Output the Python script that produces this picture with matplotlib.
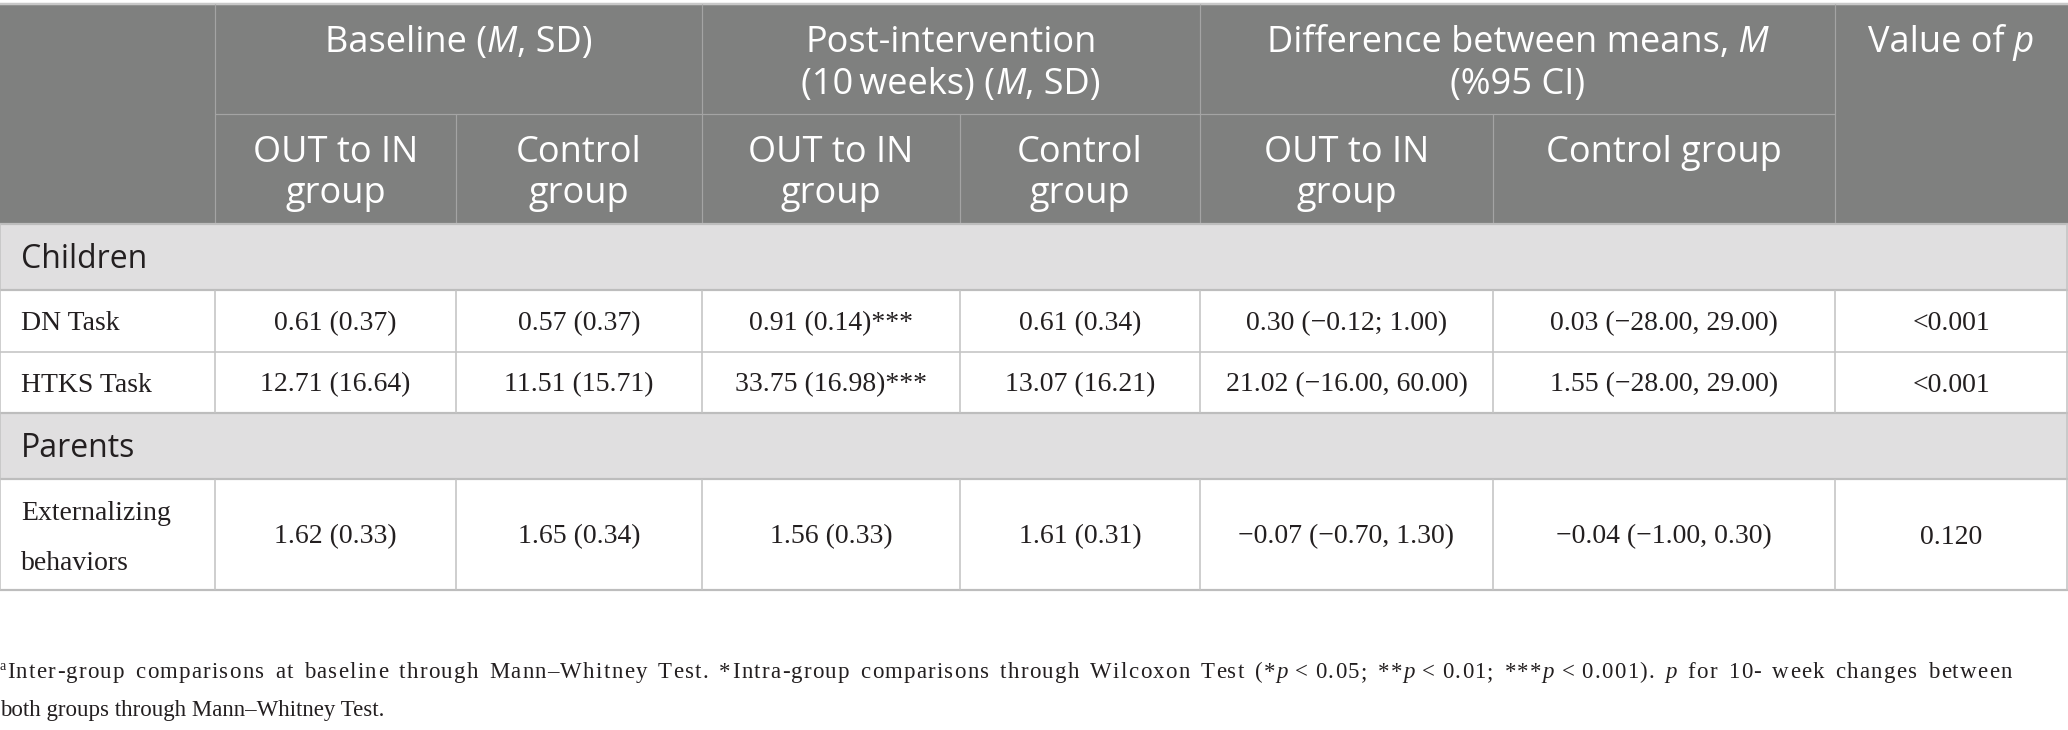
import matplotlib
matplotlib.use("Agg")
import matplotlib.pyplot as plt
from matplotlib.patches import Rectangle
from matplotlib.font_manager import findfont, FontProperties
from matplotlib.ft2font import FT2Font

# table content
sections = ["Children", "Parents"]
row_labels = ["DN Task", "HTKS Task", "Externalizing\nbehaviors"]
baseline_out = ["0.61 (0.37)", "12.71 (16.64)", "1.62 (0.33)"]
baseline_ctrl = ["0.57 (0.37)", "11.51 (15.71)", "1.65 (0.34)"]
post_out = ["0.91 (0.14)***", "33.75 (16.98)***", "1.56 (0.33)"]
post_ctrl = ["0.61 (0.34)", "13.07 (16.21)", "1.61 (0.31)"]
diff_out = ["0.30 (\u22120.12; 1.00)", "21.02 (\u221216.00, 60.00)", "\u22120.07 (\u22120.70, 1.30)"]
diff_ctrl = ["0.03 (\u221228.00, 29.00)", "1.55 (\u221228.00, 29.00)", "\u22120.04 (\u22121.00, 0.30)"]
p_values = ["<0.001", "<0.001", "0.120"]

# header runs: (text, style)
top_headers = [
    [[("Baseline (", "normal"), ("M", "italic"), (", SD)", "normal")]],
    [[("Post-intervention", "normal")],
     [("(10\u2009weeks) (", "normal"), ("M", "italic"), (", SD)", "normal")]],
    [[("Difference between means,", "normal"), (" M", "italic")],
     [("(%95 CI)", "normal")]],
    [[("Value of", "normal"), (" p", "italic")]],
]
sub_headers = ["OUT to IN\ngroup", "Control\ngroup", "OUT to IN\ngroup", "Control\ngroup",
               "OUT to IN\ngroup", "Control group"]

footnote_1 = [("Inter-group comparisons at baseline through Mann\u2013Whitney Test. *Intra-group comparisons "
               "through Wilcoxon Test (*", "normal"), ("p", "italic"), ("\u2009<\u20090.05; **", "normal"),
              ("p", "italic"), ("\u2009<\u20090.01; ***", "normal"), ("p", "italic"),
              ("\u2009<\u20090.001). ", "normal"), ("p", "italic"),
              (" for 10- week changes between", "normal")]
footnote_2 = [("both groups through Mann\u2013Whitney Test.", "normal")]

W, H = 2068, 730
fig = plt.figure(figsize=(W / 100, H / 100), dpi=100)
ax = fig.add_axes([0, 0, 1, 1])
ax.set_xlim(0, W)
ax.set_ylim(H, 0)
ax.axis("off")
renderer = fig.canvas.get_renderer()

col_x = [0, 215, 456, 702, 960, 1200, 1493, 1835, 2067]
header_top, header_mid, header_bot = 4, 114, 224
sec_rows = [(224, 290), (413, 479)]
data_rows = [(290, 352), (352, 413), (479, 590)]

head_bg = "#7f807f"
band_bg = "#e0dfe0"
grid_c = "#c4c4c4"
text_c = "#231f20"
sans = ["Open Sans", "DejaVu Sans"]
serif = ["Liberation Serif", "DejaVu Serif"]
head_fs = 26
sec_fs = 23
body_fs = 20
foot_fs = 16.5


def px(p):
    return p * 0.72


def make_runs(y, runs, **kw):
    texts = [ax.text(0, y, s, fontstyle=st, ha="left", va="baseline", **kw) for s, st in runs]
    widths = [t.get_window_extent(renderer).width for t in texts]
    return texts, widths


def draw_runs(x, y, runs, ha="center", **kw):
    texts, widths = make_runs(y, runs, **kw)
    start = x - sum(widths) / 2 if ha == "center" else x
    for t, w in zip(texts, widths):
        t.set_x(start)
        start += w


_fonts = {}


def advance(ch, family, style, size):
    if ch == "\u2009":
        return 0.2 * size * 100 / 72
    key = (style, size)
    if key not in _fonts:
        f = FT2Font(findfont(FontProperties(family=family, style=style)), hinting_factor=1)
        f.set_size(size, 100)
        _fonts[key] = f
    g = _fonts[key].load_char(ord(ch))
    return g.linearHoriAdvance / 65536


def draw_justified(x0, x1, y, runs, gap, family, size, **kw):
    # justified line with letter spacing, drawn glyph by glyph
    words = [[]]
    for s, st in runs:
        for ch in s:
            if ch == " ":
                words.append([])
            else:
                words[-1].append((ch, st))
    words = [w for w in words if w]
    adv = [[advance(c, family, st, size) for c, st in w] for w in words]
    natural = sum(sum(a) for a in adv)
    inner = sum(len(w) - 1 for w in words)
    track = (x1 - x0 - natural - gap * (len(words) - 1)) / inner
    x = x0
    for w, a in zip(words, adv):
        for (c, st), da in zip(w, a):
            if c != "\u2009":
                ax.text(x, y, c, fontstyle=st, ha="left", va="baseline", family=family,
                        fontsize=size, **kw)
            x += da + track
        x += gap - track


# backgrounds
ax.add_patch(Rectangle((0, header_top), W, header_bot - header_top, color=head_bg, lw=0))
for y0, y1 in sec_rows:
    ax.add_patch(Rectangle((0, y0), W, y1 - y0, color=band_bg, lw=0))

# header lines
hl = "#a4a4a4"
ax.hlines(header_top, 0, W, color="#c8c8c8", lw=px(2.5))
ax.hlines(header_mid, col_x[1], col_x[7], color=hl, lw=px(1.2))
for x in [col_x[1], col_x[3], col_x[5], col_x[7]]:
    ax.vlines(x, header_top, header_bot, color=hl, lw=px(1.2))
for x in [col_x[2], col_x[4], col_x[6]]:
    ax.vlines(x, header_mid, header_bot, color=hl, lw=px(1.2))

# body lines
for y in [224, 290, 413, 479, 590]:
    ax.hlines(y, 0, W, color="#bdbdbd", lw=px(2.2))
ax.hlines(352, 0, W, color=grid_c, lw=px(1.6))
for y0, y1 in [(290, 413), (479, 590)]:
    for x in col_x:
        ax.vlines(x, y0, y1, color=grid_c, lw=px(1.6))
for y0, y1 in sec_rows:
    ax.vlines([0, W - 1], y0, y1, color=grid_c, lw=px(1.6))

# header text
spans = [(col_x[1], col_x[3]), (col_x[3], col_x[5]), (col_x[5], col_x[7]), (col_x[7], col_x[8])]
for (a, b), lines in zip(spans, top_headers):
    for i, runs in enumerate(lines):
        draw_runs((a + b) / 2, 52 + 42 * i, runs, color="white", fontsize=head_fs, family=sans)
for i, label in enumerate(sub_headers):
    cx = (col_x[i + 1] + col_x[i + 2]) / 2
    for j, line in enumerate(label.split("\n")):
        ax.text(cx, 162 + 41 * j, line, ha="center", va="baseline", color="white",
                fontsize=head_fs, family=sans)

# section labels
for (y0, y1), name in zip(sec_rows, sections):
    ax.text(21, (y0 + y1) / 2 + 11, name, ha="left", va="baseline", color=text_c,
            fontsize=sec_fs, family=sans)

# data rows
columns = [baseline_out, baseline_ctrl, post_out, post_ctrl, diff_out, diff_ctrl, p_values]
for r, (y0, y1) in enumerate(data_rows):
    yb = (y0 + y1) / 2 + 9
    lab = row_labels[r].split("\n")
    if len(lab) == 1:
        ax.text(21, yb, lab[0], ha="left", va="baseline", color=text_c, fontsize=body_fs, family=serif)
    else:
        for j, line in enumerate(lab):
            ax.text(21, 520 + 50 * j, line, ha="left", va="baseline", color=text_c,
                    fontsize=body_fs, family=serif)
    for c, col in enumerate(columns):
        cx = (col_x[c + 1] + col_x[c + 2]) / 2
        ax.text(cx, yb, col[r], ha="center", va="baseline", color=text_c, fontsize=body_fs, family=serif)

# footnote
ax.text(0, 670, "a", ha="left", va="baseline", color=text_c, fontsize=10, family=serif)
draw_justified(7, 2012, 678, footnote_1, 11, serif, foot_fs, color=text_c)
draw_runs(0, 716, footnote_2, ha="left", color=text_c, fontsize=foot_fs, family=serif)

fig.savefig("out.png", dpi=100, facecolor="white")
